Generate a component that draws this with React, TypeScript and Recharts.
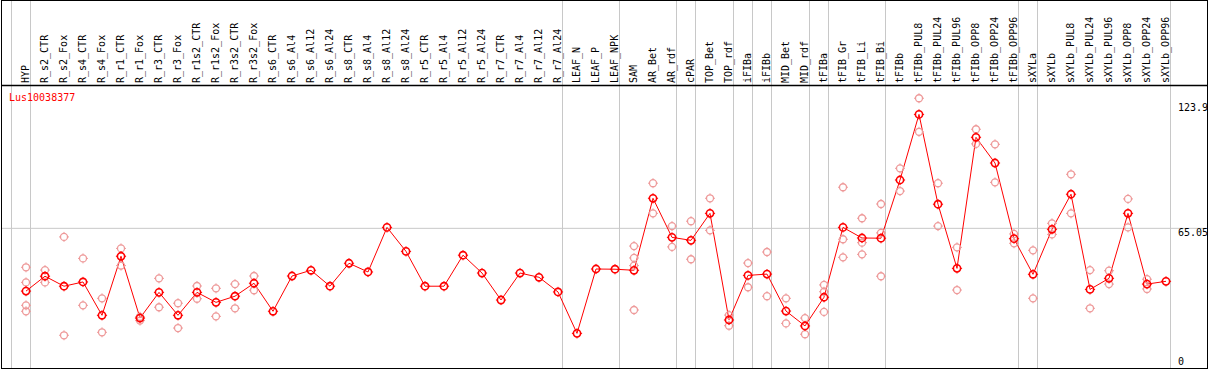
import React from 'react';
import { ComposedChart, Line, Scatter, XAxis, YAxis, ReferenceLine } from 'recharts';

const geneId = 'Lus10038377';

const categories = [
  'HYP', 'R_s2_CTR', 'R_s2_Fox', 'R_s4_CTR', 'R_s4_Fox', 'R_r1_CTR', 'R_r1_Fox', 'R_r3_CTR', 'R_r3_Fox',
  'R_r1s2_CTR', 'R_r1s2_Fox', 'R_r3s2_CTR', 'R_r3s2_Fox', 'R_s6_CTR', 'R_s6_Al4', 'R_s6_Al12', 'R_s6_Al24',
  'R_s8_CTR', 'R_s8_Al4', 'R_s8_Al12', 'R_s8_Al24', 'R_r5_CTR', 'R_r5_Al4', 'R_r5_Al12', 'R_r5_Al24',
  'R_r7_CTR', 'R_r7_Al4', 'R_r7_Al12', 'R_r7_Al24', 'LEAF_N', 'LEAF_P', 'LEAF_NPK', 'SAM', 'AR_Bet', 'AR_rdf',
  'cPAR', 'TOP_Bet', 'TOP_rdf', 'iFIBa', 'iFIBb', 'MID_Bet', 'MID_rdf', 'tFIBa', 'tFIB_Gr', 'tFIB_Li', 'tFIB_Bi',
  'tFIBb', 'tFIBb_PUL8', 'tFIBb_PUL24', 'tFIBb_PUL96', 'tFIBb_OPP8', 'tFIBb_OPP24', 'tFIBb_OPP96',
  'sXYLa', 'sXYLb', 'sXYLb_PUL8', 'sXYLb_PUL24', 'sXYLb_PUL96', 'sXYLb_OPP8', 'sXYLb_OPP24', 'sXYLb_OPP96',
];

const meanValues = [
  35.5, 42.5, 37.8, 39.8, 24.1, 51.9, 22.8, 34.9, 24.1,
  34.9, 30.2, 33.1, 39.2, 26.0, 42.6, 45.3, 37.8,
  48.6, 44.5, 65.5, 54.2, 37.8, 37.8, 52.4, 44.0,
  31.3, 44.0, 42.0, 35.1, 15.6, 45.9, 45.8, 45.3, 79.2, 60.8,
  59.4, 72.1, 21.9, 42.9, 43.5, 26.1, 19.1, 32.6, 65.5, 60.5, 60.4,
  87.8, 118.7, 76.4, 46.2, 107.9, 95.8, 60.2,
  43.4, 64.6, 81.1, 36.3, 41.5, 72.1, 38.8, 40.1,
];

const replicateValues: number[][] = [
  [46.7, 39.6, 28.8, 26.0], [45.4, 39.6], [61.0, 14.7], [50.9, 28.8], [32.1, 16.1], [55.6, 47.5], [23.4, 21.6], [41.5, 27.9], [29.8, 18.1],
  [37.9, 31.9], [36.8, 23.6], [38.8, 27.4], [42.6, 35.9], [], [], [], [],
  [], [], [], [], [], [], [], [],
  [], [], [], [], [], [], [], [56.7, 51.1, 47.5, 26.6], [86.3, 72.1], [66.1, 56.3],
  [68.4, 50.5], [79.2, 64.1], [24.2, 19.2], [48.7, 37.3], [53.9, 33.1], [32.1, 20.3], [22.8, 15.2], [38.4, 35.2, 25.7], [84.4, 59.9, 51.4], [69.8, 58.3, 52.8], [76.5, 62.9, 42.5],
  [93.3, 82.6], [126.3, 110.5], [86.3, 66.1], [56.1, 36.0], [111.7, 104.8], [104.6, 86.7], [62.4, 58.0],
  [54.7, 32.1], [67.4, 62.2], [90.5, 72.1], [45.4, 27.4], [45.1, 38.8], [78.9, 65.5], [41.1, 36.5], [],
];

const yTickValues = [0, 65.05, 123.9];
const groupBoundaryAfter = [-1, 0, 28, 31, 34, 35, 37, 38, 39, 41, 42, 45, 52, 53, 60];

const meanData = categories.map((name, i) => ({ idx: i, name, mean: meanValues[i] }));
const repData = replicateValues.flatMap((vals, i) => vals.map((v) => ({ idx: i, rep: v })));

const W = 1209;
const H = 370;
const FONT = '"DejaVu Sans Mono", monospace';

const Ticks = ({ cx, cy, r, color }: any) => (
  <g stroke={color} strokeWidth={1}>
    <line x1={cx} y1={cy - r - 1.5} x2={cx} y2={cy - r + 0.5} />
    <line x1={cx} y1={cy + r - 0.5} x2={cx} y2={cy + r + 1.5} />
    <line x1={cx - r - 1.5} y1={cy} x2={cx - r + 0.5} y2={cy} />
    <line x1={cx + r - 0.5} y1={cy} x2={cx + r + 1.5} y2={cy} />
  </g>
);

const MeanDot = (props: any) => {
  const { cx, cy, index } = props;
  if (cx == null || cy == null) return null;
  return (
    <g key={`m${index}`}>
      <circle cx={cx} cy={cy} r={3.6} fill="none" stroke="#ff0000" strokeWidth={1.6} />
      <Ticks cx={cx} cy={cy} r={3.6} color="#ff0000" />
    </g>
  );
};

const RepDot = (props: any) => {
  const { cx, cy } = props;
  if (cx == null || cy == null) return null;
  return (
    <g>
      <circle cx={cx} cy={cy} r={3.5} fill="none" stroke="#ee9a9a" strokeWidth={1.3} />
      <Ticks cx={cx} cy={cy} r={3.5} color="#ee9a9a" />
    </g>
  );
};

const CategoryTick = (props: any) => {
  const { x, payload } = props;
  const label = categories[payload.value];
  if (label == null) return null;
  return (
    <text
      transform={`translate(${x + 2.5},83) rotate(-90)`}
      fontFamily={FONT}
      fontSize={10}
      fill="#000"
      textAnchor="start"
    >
      {label}
    </text>
  );
};

const ValueTick = (props: any) => {
  const { y, payload } = props;
  const v = payload.value;
  const dy = v === 0 ? -1.5 : 8;
  return (
    <text x={1178} y={y + dy} fontFamily={FONT} fontSize={10} fill="#000" textAnchor="start">
      {String(v)}
    </text>
  );
};

// x(i) = 26 + 19 i across plot area spanning x=1..1207
const xLo = -25 / 19;
const xHi = xLo + 1206 / 19;
// y(v) = 366.5 - 2.124 v across plot area spanning y=1..368
const yLo = -1.5 / 2.124;
const yHi = 365.5 / 2.124;

export default function App() {
  return (
    <div style={{ position: 'absolute', left: 0, top: 0, width: W, height: H, background: '#fff' }}>
      <ComposedChart
        width={W}
        height={H}
        data={meanData}
        margin={{ top: 0, right: 2, left: 1, bottom: 2 }}
      >
        <XAxis
          dataKey="idx"
          type="number"
          orientation="top"
          domain={[xLo, xHi]}
          allowDataOverflow
          ticks={categories.map((_, i) => i)}
          interval={0}
          height={1}
          axisLine={false}
          tickLine={false}
          tick={CategoryTick}
        />
        <YAxis
          type="number"
          orientation="right"
          mirror
          width={1}
          domain={[yLo, yHi]}
          allowDataOverflow
          ticks={yTickValues}
          interval={0}
          axisLine={false}
          tickLine={false}
          tick={ValueTick}
        />
        {groupBoundaryAfter.map((i) => (
          <ReferenceLine key={`g${i}`} x={i + 4.5 / 19} stroke="#c8c8c8" strokeWidth={1} ifOverflow="visible" />
        ))}
        <ReferenceLine y={65.05} stroke="#c8c8c8" strokeWidth={1} ifOverflow="visible" />
        <Scatter data={repData} dataKey="rep" shape={RepDot} isAnimationActive={false} />
        <Line
          type="linear"
          dataKey="mean"
          stroke="#ff0000"
          strokeWidth={1}
          dot={MeanDot}
          activeDot={false}
          isAnimationActive={false}
        />
      </ComposedChart>
      <svg
        width={W}
        height={H}
        style={{ position: 'absolute', left: 0, top: 0, pointerEvents: 'none' }}
      >
        <rect x={1.5} y={0.5} width={1206} height={368} fill="none" stroke="#000" strokeWidth={1} />
        <line x1={1} y1={85.5} x2={1208} y2={85.5} stroke="#000" strokeWidth={1.5} />
        <text x={9} y={101} fontFamily={FONT} fontSize={10} fill="#ff0000">
          {geneId}
        </text>
      </svg>
    </div>
  );
}
